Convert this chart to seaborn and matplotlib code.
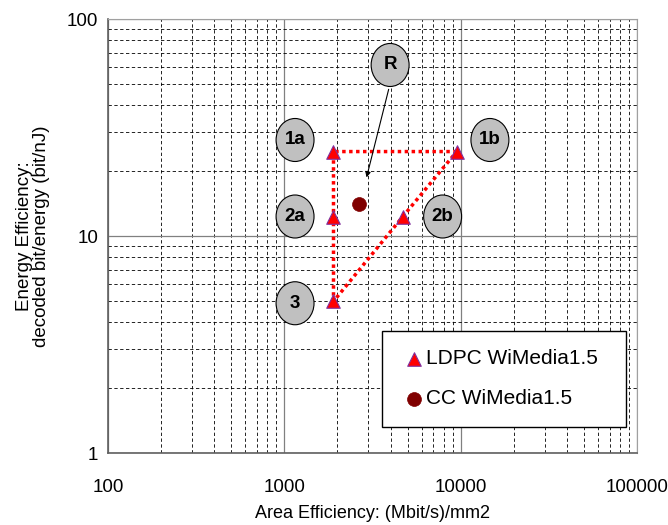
import matplotlib
matplotlib.use('Agg')
import matplotlib.pyplot as plt
from matplotlib.patches import Ellipse
import seaborn as sns
import pandas as pd
import numpy as np

# LDPC WiMedia1.5 design points
ldpc_area = [1900, 9500, 1900, 4700, 1900]
ldpc_energy = [24.5, 24.5, 12.3, 12.3, 5.0]
# path of the dotted connection: 1b -> 1a -> 2a -> 3 -> 2b -> 1b
path_area = [9500, 1900, 1900, 1900, 4700, 9500]
path_energy = [24.5, 24.5, 12.3, 5.0, 12.3, 24.5]
# CC WiMedia1.5 reference point
cc_area = [2650]
cc_energy = [14.0]

# bubble labels
tag_names = ['1a', '1b', '2a', '2b', '3']
tag_area = [1150, 14650, 1150, 7900, 1150]
tag_energy = [27.7, 27.7, 12.3, 12.3, 4.9]
ref_name = 'R'
ref_xy = (3980, 61.4)
ref_arrow_to = (2900, 18.1)

sns.set_style('white')
plt.rcParams['font.family'] = ['Liberation Sans', 'DejaVu Sans']
plt.rcParams['text.color'] = 'black'
plt.rcParams['axes.labelcolor'] = 'black'
plt.rcParams['xtick.labelcolor'] = 'black'
plt.rcParams['ytick.labelcolor'] = 'black'

fig = plt.figure(figsize=(6.68, 5.25), dpi=100)
ax = fig.add_axes([0.1617, 0.1371, 0.7919, 0.8267])
ax.set_xscale('log')
ax.set_yscale('log')
ax.set_xlim(100, 100000)
ax.set_ylim(1, 100)

ax.grid(which='major', color='#808080', lw=0.9, ls='-')
ax.grid(which='minor', color='black', lw=0.6, ls=(0, (4, 3)))
ax.set_axisbelow(True)

df_path = pd.DataFrame({'x': path_area, 'y': path_energy})
sns.lineplot(data=df_path, x='x', y='y', sort=False, estimator=None, ax=ax,
             color='red', lw=2.5, ls=(0, (1, 1)), zorder=3)

df_ldpc = pd.DataFrame({'x': ldpc_area, 'y': ldpc_energy})
df_cc = pd.DataFrame({'x': cc_area, 'y': cc_energy})
sns.scatterplot(data=df_ldpc, x='x', y='y', marker='^', s=95, color='red',
                edgecolor='#8030a0', linewidth=0.8, ax=ax, zorder=4,
                label='LDPC WiMedia1.5')
sns.scatterplot(data=df_cc, x='x', y='y', marker='o', s=100, color='#800000',
                edgecolor='#800000', linewidth=0.5, ax=ax, zorder=4,
                label='CC WiMedia1.5')

# gray bubbles with labels
to_axes = ax.transData + ax.transAxes.inverted()
ew = 38 / 529.6
eh = 43 / 434.0
for name, xa, ye in zip(tag_names + [ref_name], tag_area + [ref_xy[0]],
                        tag_energy + [ref_xy[1]]):
    cx, cy = to_axes.transform((xa, ye))
    ax.add_patch(Ellipse((cx, cy), ew, eh, transform=ax.transAxes,
                         fc='#c0c0c0', ec='black', lw=0.8, zorder=5))
    ax.text(cx, cy, name, transform=ax.transAxes, ha='center', va='center',
            fontsize=13.5, fontweight='bold', zorder=6)

ax.annotate('', xy=ref_arrow_to, xytext=(3940, 48.8),
            arrowprops=dict(arrowstyle='-|>', color='black', lw=0.8,
                            mutation_scale=8), zorder=5)

ax.set_xlabel('Area Efficiency: (Mbit/s)/mm2', fontsize=13, labelpad=6)
ax.set_ylabel('Energy Efficiency:\ndecoded bit/energy (bit/nJ)', fontsize=13.5,
              labelpad=12, linespacing=1.05)
ax.set_xticks([100, 1000, 10000, 100000])
ax.set_xticklabels(['100', '1000', '10000', '100000'])
ax.set_yticks([1, 10, 100])
ax.set_yticklabels(['1', '10', '100'])
ax.tick_params(axis='both', which='major', labelsize=13.5, direction='inout',
               length=8, width=1, color='#606060')
ax.tick_params(axis='x', which='major', pad=15)
ax.tick_params(axis='y', which='major', pad=3)
ax.tick_params(axis='both', which='minor', direction='inout', length=4,
               color='#606060')
ax.tick_params(axis='x', which='minor', length=0)

for side in ['left', 'bottom']:
    ax.spines[side].set_color('#606060')
    ax.spines[side].set_linewidth(1.2)
for side in ['top', 'right']:
    ax.spines[side].set_color('#a0a0a0')
    ax.spines[side].set_linewidth(0.8)

leg = ax.legend(loc='lower left', bbox_to_anchor=(0.517, 0.06, 0.462, 0.214),
                mode='expand', fontsize=15, frameon=True, fancybox=False,
                edgecolor='black', framealpha=1, labelspacing=1.0,
                handletextpad=-0.06, borderpad=0.9, handlelength=1.28,
                borderaxespad=0)
leg.get_frame().set_linewidth(1.0)

fig.savefig('out.png', dpi=100)
